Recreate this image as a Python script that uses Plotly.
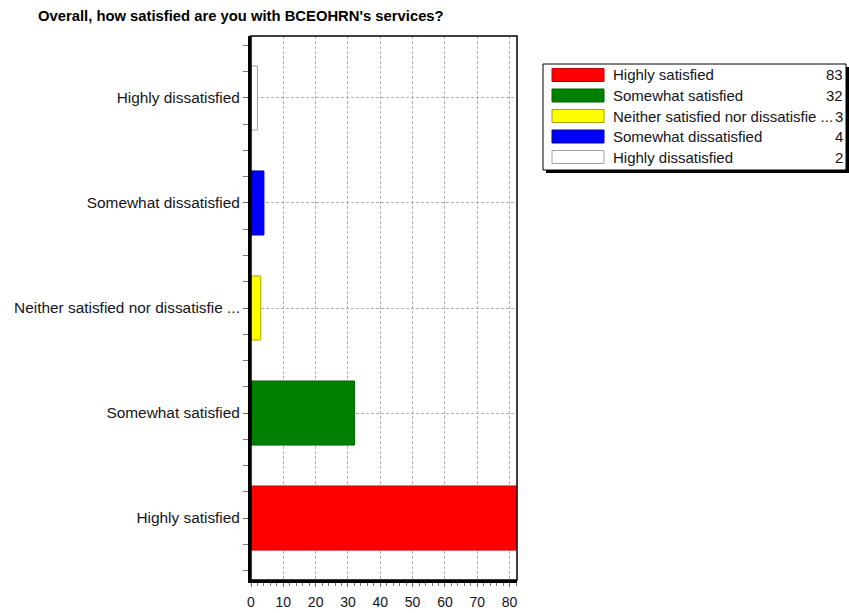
import plotly.graph_objects as go

categories = ["Highly satisfied", "Somewhat satisfied", "Neither satisfied nor dissatisfie ...",
              "Somewhat dissatisfied", "Highly dissatisfied"]
values = [83, 32, 3, 4, 2]
fill_colors = ["#FF0000", "#008000", "#FFFF00", "#0000FF", "#FFFFFF"]
line_colors = ["#C00000", "#006000", "#B0A000", "#0000A0", "#A0A0A0"]
x_ticks = [0, 10, 20, 30, 40, 50, 60, 70, 80]
title_text = "Overall, how satisfied are you with BCEOHRN's services?"

W, H = 849, 613
ML, MR, MT, MB = 251, 332, 36, 33
PW, PH = W - ML - MR, H - MT - MB
FONT = "Liberation Sans"
TXT = "#141420"


def fx(px):
    return (px - ML) / PW


def fy(py):
    return (H - MB - py) / PH


idx = list(range(len(categories)))

fig = go.Figure()
fig.add_trace(go.Bar(
    x=values, y=idx, orientation="h", width=0.61,
    marker=dict(color=fill_colors, line=dict(color=line_colors, width=1)),
    showlegend=False, hoverinfo="x+y",
))

shapes = []
annotations = []

# plot frame
shapes.append(dict(type="rect", xref="paper", yref="paper", x0=0, x1=1, y0=0, y1=1,
                   line=dict(color="black", width=1.5), layer="above"))

# custom legend
bx0, by0, bx1, by1 = 543, 64, 846, 170
shapes.append(dict(type="rect", xref="paper", yref="paper",
                   x0=fx(bx0 + 3), x1=fx(bx1 + 3), y0=fy(by1 + 3), y1=fy(by0 + 3),
                   fillcolor="black", line=dict(width=0)))
shapes.append(dict(type="rect", xref="paper", yref="paper",
                   x0=fx(bx0), x1=fx(bx1), y0=fy(by1), y1=fy(by0),
                   fillcolor="white", line=dict(color="black", width=1)))
for i, (c, v) in enumerate(zip(categories, values)):
    cy = 75 + 20.5 * i
    shapes.append(dict(type="rect", xref="paper", yref="paper",
                       x0=fx(552), x1=fx(604), y0=fy(cy + 6.5), y1=fy(cy - 6.5),
                       fillcolor=fill_colors[i], line=dict(color=line_colors[i], width=1)))
    annotations.append(dict(xref="paper", yref="paper", x=fx(611), y=fy(cy),
                            xanchor="left", yanchor="middle", text=c, showarrow=False,
                            font=dict(family=FONT, size=15, color=TXT)))
    annotations.append(dict(xref="paper", yref="paper", x=fx(845), y=fy(cy),
                            xanchor="right", yanchor="middle", text=str(v), showarrow=False,
                            font=dict(family=FONT, size=15, color=TXT)))

fig.update_layout(
    width=W, height=H,
    margin=dict(l=ML, r=MR, t=MT, b=MB, pad=0, autoexpand=False),
    paper_bgcolor="white", plot_bgcolor="white",
    title=dict(text="<b>" + title_text + "</b>", x=38 / W, xanchor="left",
               y=1 - 16 / H, yanchor="middle", xref="container", yref="container",
               font=dict(family=FONT, size=14.8, color="black")),
    xaxis=dict(range=[0, 82.3], tickvals=x_ticks, ticks="outside", ticklen=4,
               tickcolor="#666", showgrid=True, gridcolor="#B0B0B0", griddash="3px,2px",
               gridwidth=1, showline=True, linecolor="black", linewidth=3,
               tickfont=dict(family=FONT, size=14, color=TXT), zeroline=False,
               ticklabelstandoff=3, automargin=False,
               minor=dict(dtick=2, ticks="outside", ticklen=3, tickcolor="#777", showgrid=False)),
    yaxis=dict(range=[-0.59, 4.59], tickvals=idx, ticktext=categories, ticks="outside",
               ticklen=5, tickcolor="#666", showgrid=True, gridcolor="#B0B0B0",
               griddash="3px,2px", gridwidth=1, showline=True, linecolor="black", linewidth=3,
               tickfont=dict(family=FONT, size=15.4, color=TXT), zeroline=False,
               automargin=False,
               minor=dict(dtick=0.25, tick0=0, ticks="outside", ticklen=5, tickcolor="#777",
                          showgrid=False)),
    shapes=shapes, annotations=annotations,
)

fig.write_html("out.html")
